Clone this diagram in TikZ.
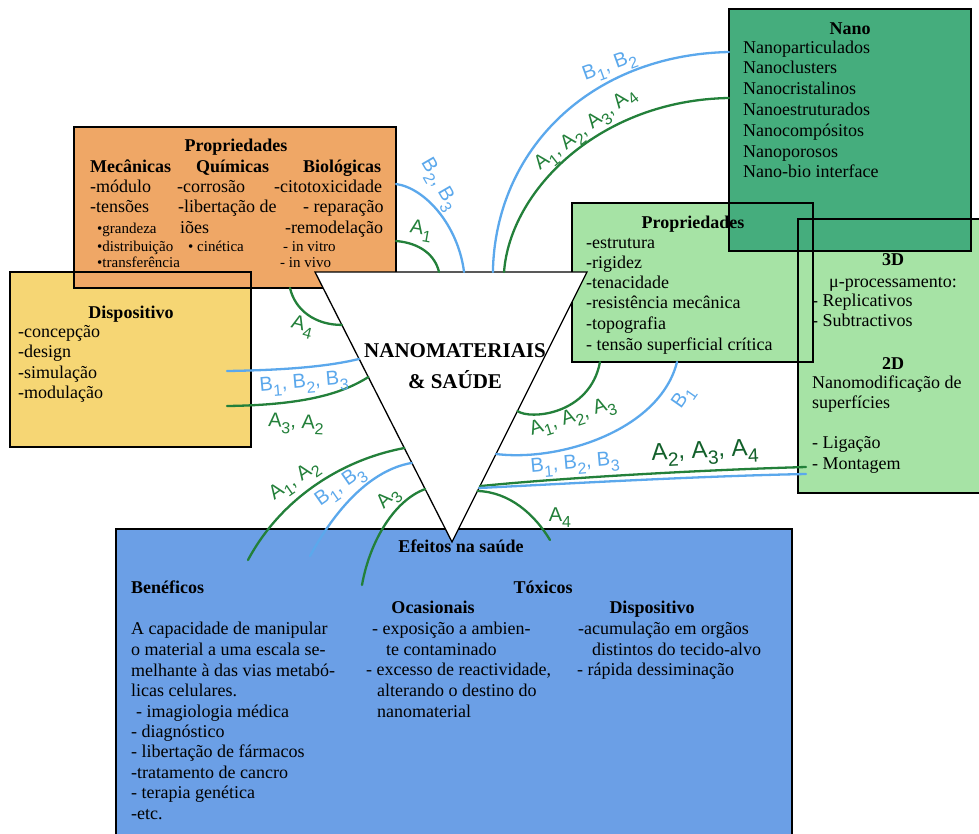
\documentclass[tikz,border=0pt]{standalone}
\usepackage{fontspec}
\setmainfont{Liberation Serif}
\newfontfamily\handfont{Liberation Sans}
\usepackage{graphicx}
\usetikzlibrary{calc}
\definecolor{orangeC}{HTML}{EFA766}
\definecolor{yellowC}{HTML}{F6D674}
\definecolor{nanoC}{HTML}{45AD7D}
\definecolor{lgreenC}{HTML}{A6E3A5}
\definecolor{blueC}{HTML}{6B9FE6}
\definecolor{gpen}{HTML}{23803A}
\definecolor{gpendark}{HTML}{12602A}
\definecolor{bpen}{HTML}{5BA8EC}
\newcommand\sbs[1]{\raisebox{-0.3em}{\scalebox{0.8}{#1}}}
\begin{document}
\begin{tikzpicture}[x=1pt,y=-1pt,
  boxf/.style={anchor=north west, inner sep=0pt, outer sep=0pt, draw=none},
  bd/.style={draw=black, line width=1.3pt},
  txt/.style={anchor=base west, inner sep=0pt, font=\fontsize{18}{20}\selectfont},
  txtc/.style={anchor=base, inner sep=0pt, font=\fontsize{18}{20}\selectfont},
  hd/.style={anchor=base, inner sep=0pt, font=\fontsize{18}{20}\selectfont\bfseries},
  hdw/.style={anchor=base west, inner sep=0pt, font=\fontsize{18}{20}\selectfont\bfseries},
  sm/.style={anchor=base west, inner sep=0pt, font=\fontsize{15}{16}\selectfont},
  ttl/.style={anchor=base, inner sep=0pt, font=\fontsize{21}{21}\selectfont\bfseries},
  gcur/.style={draw=gpen, line width=2.3pt, line cap=round},
  bcur/.style={draw=bpen, line width=2.3pt, line cap=round},
  glab/.style={text=gpen, font=\handfont\fontsize{20}{20}\selectfont, inner sep=0pt},
  blab/.style={text=bpen, font=\handfont\fontsize{20}{20}\selectfont, inner sep=0pt},
]
\clip (0,0) rectangle (979,833);
\fill[white] (0,0) rectangle (979,833);

% ---- box fills ----
\node[boxf, fill=yellowC, minimum width=241pt, minimum height=175pt] (disp) at (10,272) {};
\node[boxf, fill=orangeC, minimum width=322pt, minimum height=161pt] (orng) at (74,127) {};
\node[boxf, fill=lgreenC, minimum width=241pt, minimum height=159pt] (propg) at (572,203) {};
\node[boxf, fill=lgreenC, minimum width=192pt, minimum height=274pt] (threeD) at (798,219) {};
\node[boxf, fill=nanoC, minimum width=242pt, minimum height=242pt] (nano) at (729,9) {};
\node[boxf, fill=blueC, minimum width=676pt, minimum height=320pt] (blue) at (116,529) {};

% ---- box borders ----
\foreach \b in {disp,orng,propg,threeD,nano,blue}
  \draw[bd] (\b.north west) rectangle (\b.south east);

% ---- orange box text ----
\node[hd] (op) at (236,151) {Propriedades};
\node[hdw] (om) at (90,172) {Mecânicas};
\node[hdw] (oq) at (196,172) {Químicas};
\node[hdw] (obio) at (303,172) {Biológicas};
\node[txt] (o11) at (90,192) {-módulo};
\node[txt] (o12) at (177,192) {-corrosão};
\node[txt] (o13) at (274,192) {-citotoxicidade};
\node[txt] (o21) at (90,212) {-tensões};
\node[txt] (o22) at (178,212) {-libertação de};
\node[txt] (o23) at (303,212) {- reparação};
\node[sm] (o31) at (97,233) {•grandeza};
\node[txt] (o32) at (180,233) {iões};
\node[txt] (o33) at (285,233) {-remodelação};
\node[sm] (o41) at (97,251) {•distribuição};
\node[sm] (o42) at (188,251) {• cinética};
\node[sm] (o43) at (283,251) {- in vitro};
\node[sm] (o51) at (97,267) {•transferência};
\node[sm] (o53) at (280,267) {- in vivo};

% ---- yellow box text ----
\node[hd] (dh) at (131,318) {Dispositivo};
\foreach \t/\y [count=\i] in {-concepção/337,-design/357,-simulação/378,-modulação/398}
  \node[txt] (d\i) at (18,\y) {\t};

% ---- light green propriedades ----
\node[hd] (ph) at (693,228) {Propriedades};
\foreach \t/\y [count=\i] in {-estrutura/248,-rigidez/268,-tenacidade/288,-resistência mecânica/308,-topografia/329,- tensão superficial crítica/350}
  \node[txt] (p\i) at (586,\y) {\t};

% ---- nano box ----
\node[hd] (nh) at (850,34) {Nano};
\foreach \t/\y [count=\i] in {Nanoparticulados/53,Nanoclusters/73,Nanocristalinos/94,Nanoestruturados/115,Nanocompósitos/136,Nanoporosos/157,Nano-bio interface/177}
  \node[txt] (n\i) at (743,\y) {\t};

% ---- 3D / 2D box ----
\node[hd] (h3) at (893,265) {3D};
\node[txtc] (mu) at (893,287) {μ-processamento:};
\node[txt] (r1) at (812,306) {- Replicativos};
\node[txt] (r2) at (812,326) {- Subtractivos};
\node[hd] (h2) at (893,369) {2D};
\node[txt] (r3) at (812,388) {Nanomodificação de};
\node[txt] (r4) at (812,408) {superfícies};
\node[txt] (r5) at (812,448) {- Ligação};
\node[txt] (r6) at (812,469) {- Montagem};

% ---- blue box ----
\node[hd] (eh) at (461,552) {Efeitos na saúde};
\node[hdw] (ben) at (131,593) {Benéficos};
\node[hd] (tox) at (543,593) {Tóxicos};
\node[hd] (oca) at (433,613) {Ocasionais};
\node[hd] (dsp) at (652,613) {Dispositivo};
\foreach \t/\x/\y [count=\i] in {A capacidade de manipular/131/634,o material a uma escala se-/131/655,melhante à das vias metabó-/131/676,licas celulares./131/696,- imagiologia médica/136/717,- diagnóstico/131/737,- libertação de fármacos/131/757,-tratamento de cancro/131/778,- terapia genética/131/798,-etc./131/819}
  \node[txt] (bl\i) at (\x,\y) {\t};
\node[txt] (m1) at (372,634) {- exposição a ambien-};
\node[txt] (m2) at (386,655) {te contaminado};
\node[txt] (m3) at (366,675) {- excesso de reactividade,};
\node[txt] (m4) at (377,696) {alterando o destino do};
\node[txt] (m5) at (377,717) {nanomaterial};
\node[txt] (k1) at (578,634) {-acumulação em orgãos};
\node[txt] (k2) at (592,655) {distintos do tecido-alvo};
\node[txt] (k3) at (577,675) {- rápida dessiminação};

% ---- central triangle ----
\coordinate (tl) at (315,272);
\coordinate (tr) at (587,272);
\coordinate (ap) at (452,542);
\draw[fill=white, draw=black, line width=1.3pt, line join=miter] (tl) -- (tr) -- (ap) -- cycle;
\node[ttl] (tt1) at (455,357) {NANOMATERIAIS};
\node[ttl] (tt2) at (455,388) {\& SAÚDE};

% ---- connector end points ----
\coordinate (eT1) at ($(tl)!0.456!(tr)$);
\coordinate (eT2) at ($(tl)!0.548!(tr)$);
\coordinate (eT3) at ($(tl)!0.654!(tr)$);
\coordinate (eT4) at ($(tl)!0.695!(tr)$);
\coordinate (eL1) at ($(tl)!0.196!(ap)$);
\coordinate (eL2) at ($(tl)!0.322!(ap)$);
\coordinate (eL3) at ($(tl)!0.389!(ap)$);
\coordinate (eL4) at ($(tl)!0.652!(ap)$);
\coordinate (eL5) at ($(tl)!0.707!(ap)$);
\coordinate (eL6) at ($(tl)!0.804!(ap)$);
\coordinate (eR1) at ($(tr)!0.515!(ap)$);
\coordinate (eR2) at ($(tr)!0.674!(ap)$);
\coordinate (eR3) at ($(tr)!0.793!(ap)$);
\coordinate (eR4) at ($(tr)!0.80!(ap)$);
\coordinate (eR5) at ($(tr)!0.811!(ap)$);
\coordinate (nB) at (729,52);
\coordinate (nG) at (729,98);
\coordinate (oB) at (396,184);
\coordinate (oG) at (396,241);
\coordinate (oA4) at (290,288);
\coordinate (dB) at (227,371);
\coordinate (dG) at (227,406);
\coordinate (bG1) at (248,560);
\coordinate (bB1) at (310,556);
\coordinate (bG2) at (362,585);
\coordinate (bG3) at (550,540);
\coordinate (pG) at (600,362);
\coordinate (pB) at (677,362);
\coordinate (tG) at (806,467);
\coordinate (tB) at (806,474);

% ---- connectors ----
\draw[bcur] (eT3) .. controls (495,150) and (590,55) .. (nB);
\draw[gcur] (eT4) .. controls (510,190) and (600,100) .. (nG);
\draw[bcur] (oB) .. controls (425,188) and (458,225) .. (eT2);
\draw[gcur] (oG) .. controls (420,243) and (435,255) .. (eT1);
\draw[gcur] (oA4) .. controls (295,310) and (315,325) .. (eL1);
\draw[bcur] (dB) .. controls (290,370) and (330,366) .. (eL2);
\draw[gcur] (dG) .. controls (300,405) and (340,395) .. (eL3);
\draw[gcur] (eL4) .. controls (340,460) and (280,500) .. (bG1);
\draw[bcur] (eL5) .. controls (370,470) and (335,510) .. (bB1);
\draw[gcur] (eL6) .. controls (395,500) and (370,540) .. (bG2);
\draw[gcur] (eR1) .. controls (530,420) and (590,415) .. (pG);
\draw[bcur] (eR2) .. controls (560,462) and (660,430) .. (pB);
\draw[gcur] (eR3) .. controls (560,478) and (700,470) .. (tG);
\draw[bcur] (eR4) .. controls (560,484) and (700,476) .. (tB);
\draw[gcur] (eR5) .. controls (510,492) and (535,515) .. (bG3);

% ---- handwritten labels ----
\node[blab, rotate=20] (lb1) at (610,67) {B\sbs{1}, B\sbs{2}};
\node[glab, rotate=38] (lg1) at (586,130) {A\sbs{1}, A\sbs{2}, A\sbs{3}, A\sbs{4}};
\node[blab, rotate=-60] (lb2) at (438,185) {B\sbs{2}, B\sbs{3}};
\node[glab, rotate=-10] (lg2) at (421,231) {A\sbs{1}};
\node[glab, rotate=-15] (lg3) at (302,327) {A\sbs{4}};
\node[blab, rotate=5] (lb3) at (304,384) {B\sbs{1}, B\sbs{2}, B\sbs{3}};
\node[glab, rotate=-3] (lg4) at (296,424) {A\sbs{3}, A\sbs{2}};
\node[glab, rotate=35] (lg5) at (295,481) {A\sbs{1}, A\sbs{2}};
\node[blab, rotate=35] (lb4) at (341,487) {B\sbs{1}, B\sbs{3}};
\node[glab, rotate=45] (lg6) at (389,499) {A\sbs{3}};
\node[glab, rotate=18] (lg7) at (573,418) {A\sbs{1}, A\sbs{2}, A\sbs{3}};
\node[blab, rotate=55] (lb5) at (684,398) {B\sbs{1}};
\node[blab, rotate=5] (lb6) at (575,465) {B\sbs{1}, B\sbs{2}, B\sbs{3}};
\node[glab, text=gpendark, font=\handfont\fontsize{24}{24}\selectfont, rotate=3] (lg8) at (705,453) {A\sbs{2}, A\sbs{3}, A\sbs{4}};
\node[glab] (lg9) at (560,518) {A\sbs{4}};
\end{tikzpicture}
\end{document}
